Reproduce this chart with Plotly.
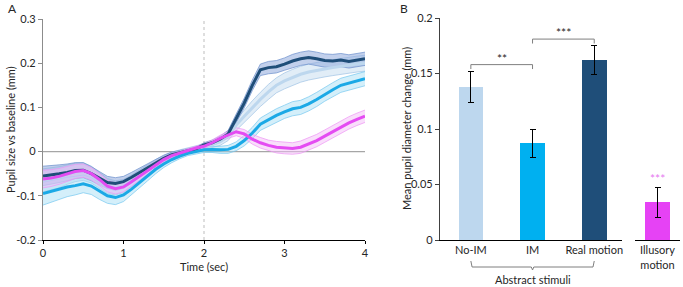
import plotly.graph_objects as go

# ---------------- data: panel A (time course) ----------------
time_s = [i / 10 for i in range(41)]

real_motion = [-0.055, -0.053, -0.05, -0.047, -0.043, -0.042, -0.05, -0.06, -0.07, -0.072,
               -0.068, -0.058, -0.047, -0.036, -0.025, -0.015, -0.007, -0.002, 0.002, 0.006,
               0.015, 0.02, 0.028, 0.04, 0.075, 0.11, 0.15, 0.185, 0.19, 0.192,
               0.198, 0.205, 0.21, 0.213, 0.21, 0.206, 0.205, 0.207, 0.204, 0.207, 0.21]
real_motion_err = [0.022, 0.021, 0.02, 0.019, 0.018, 0.017, 0.016, 0.015, 0.014, 0.013,
                   0.012, 0.011, 0.01, 0.009, 0.008, 0.007, 0.006, 0.005, 0.004, 0.004,
                   0.005, 0.006, 0.007, 0.008, 0.01, 0.011, 0.012, 0.013, 0.014, 0.014,
                   0.014, 0.015, 0.015, 0.015, 0.015, 0.015, 0.015, 0.015, 0.015, 0.015, 0.015]

no_im = [-0.065, -0.062, -0.058, -0.052, -0.047, -0.045, -0.052, -0.065, -0.078, -0.082,
         -0.078, -0.066, -0.053, -0.04, -0.028, -0.017, -0.008, -0.002, 0.003, 0.008,
         0.012, 0.016, 0.022, 0.035, 0.06, 0.08, 0.1, 0.118, 0.135, 0.15,
         0.16, 0.168, 0.175, 0.18, 0.184, 0.187, 0.19, 0.193, 0.196, 0.198, 0.2]
no_im_err = [0.026, 0.025, 0.024, 0.022, 0.021, 0.02, 0.019, 0.018, 0.017, 0.016,
             0.015, 0.013, 0.012, 0.011, 0.01, 0.008, 0.007, 0.006, 0.005, 0.005,
             0.006, 0.007, 0.008, 0.01, 0.012, 0.014, 0.015, 0.016, 0.017, 0.017,
             0.018, 0.018, 0.018, 0.018, 0.018, 0.018, 0.018, 0.018, 0.018, 0.018, 0.018]

im = [-0.095, -0.09, -0.085, -0.08, -0.077, -0.073, -0.078, -0.09, -0.1, -0.104,
      -0.098, -0.085, -0.07, -0.055, -0.04, -0.028, -0.018, -0.01, -0.004, 0.0,
      0.004, 0.005, 0.004, 0.005, 0.012, 0.025, 0.042, 0.062, 0.072, 0.082,
      0.09, 0.097, 0.1, 0.108, 0.118, 0.13, 0.14, 0.15, 0.155, 0.16, 0.165]
im_err = [0.026, 0.025, 0.024, 0.022, 0.021, 0.02, 0.019, 0.018, 0.017, 0.016,
          0.015, 0.013, 0.012, 0.011, 0.01, 0.008, 0.007, 0.006, 0.005, 0.005,
          0.006, 0.007, 0.008, 0.009, 0.01, 0.012, 0.013, 0.014, 0.015, 0.015,
          0.015, 0.016, 0.016, 0.016, 0.016, 0.016, 0.016, 0.016, 0.016, 0.016, 0.016]

illusory = [-0.062, -0.06, -0.056, -0.05, -0.045, -0.043, -0.05, -0.063, -0.078, -0.084,
            -0.08, -0.068, -0.055, -0.042, -0.03, -0.018, -0.009, -0.003, 0.003, 0.008,
            0.012, 0.02, 0.03, 0.038, 0.045, 0.04, 0.028, 0.02, 0.014, 0.01,
            0.008, 0.007, 0.01, 0.017, 0.025, 0.035, 0.045, 0.055, 0.065, 0.073, 0.08]
illusory_err = [0.02, 0.019, 0.018, 0.017, 0.016, 0.015, 0.014, 0.014, 0.013, 0.012,
                0.011, 0.01, 0.009, 0.008, 0.007, 0.006, 0.005, 0.004, 0.004, 0.004,
                0.005, 0.006, 0.007, 0.008, 0.009, 0.01, 0.011, 0.012, 0.012, 0.013,
                0.013, 0.013, 0.014, 0.014, 0.014, 0.014, 0.014, 0.014, 0.014, 0.014, 0.014]

# ---------------- data: panel B (bars) ----------------
bar_labels = ["No-IM", "IM", "Real motion"]
bar_values = [0.138, 0.087, 0.162]
bar_errors = [0.014, 0.013, 0.013]
illusory_label = ["Illusory<br>motion"]
illusory_value = [0.034]
illusory_error = [0.0135]

left_yticks = [-0.2, -0.1, 0, 0.1, 0.2, 0.3]
left_ytext = ["-0.2", "-0.1", "0", "0.1", "0.2", "0.3"]
right_yticks = [0, 0.05, 0.1, 0.15, 0.2]
right_ytext = ["0", "0.05", "0.1", "0.15", "0.2"]

FONT = "Lato"
TXT = "#262626"

series = [
    (no_im, no_im_err, "#BDD7EE", "rgba(189,215,238,0.45)", "rgba(160,195,228,0.9)"),
    (real_motion, real_motion_err, "#1F4E79", "rgba(143,170,220,0.55)", "rgba(110,145,205,0.9)"),
    (im, im_err, "#1BA9E6", "rgba(160,220,245,0.45)", "rgba(120,200,240,0.9)"),
    (illusory, illusory_err, "#E44CF2", "rgba(244,190,248,0.5)", "rgba(238,150,245,0.9)"),
]

fig = go.Figure()

# error bands
for vals, errs, lc, fc, ec in series:
    lo = [v - e for v, e in zip(vals, errs)]
    hi = [v + e for v, e in zip(vals, errs)]
    fig.add_trace(go.Scatter(x=time_s, y=lo, mode="lines", line=dict(color=ec, width=0.8),
                             showlegend=False, hoverinfo="skip", xaxis="x", yaxis="y"))
    fig.add_trace(go.Scatter(x=time_s, y=hi, mode="lines", line=dict(color=ec, width=0.8),
                             fill="tonexty", fillcolor=fc,
                             showlegend=False, hoverinfo="skip", xaxis="x", yaxis="y"))

# mean lines
for vals, errs, lc, fc, ec in series:
    fig.add_trace(go.Scatter(x=time_s, y=vals, mode="lines", line=dict(color=lc, width=3),
                             showlegend=False, xaxis="x", yaxis="y"))

# bars
fig.add_trace(go.Bar(x=bar_labels, y=bar_values, width=0.4,
                     marker=dict(color=["#BDD7EE", "#00B0F0", "#1F4E79"], line=dict(width=0)),
                     error_y=dict(type="data", array=bar_errors, color="#000000", thickness=1, width=3),
                     showlegend=False, xaxis="x2", yaxis="y2"))
fig.add_trace(go.Bar(x=illusory_label, y=illusory_value, width=0.55,
                     marker=dict(color="#E642F5", line=dict(width=0)),
                     error_y=dict(type="data", array=illusory_error, color="#000000", thickness=1, width=3),
                     showlegend=False, xaxis="x3", yaxis="y2"))

axis_font = dict(family=FONT, size=11, color=TXT)

fig.update_layout(
    template="none",
    width=683, height=287,
    margin=dict(l=0, r=0, t=0, b=0, autoexpand=False),
    paper_bgcolor="white", plot_bgcolor="rgba(0,0,0,0)",
    font=dict(family=FONT, size=11, color=TXT),
    xaxis=dict(domain=[43 / 683, 365 / 683], range=[0, 4], tickvals=[0, 1, 2, 3, 4],
               showgrid=False, zeroline=False, showline=True, linecolor="#000000", linewidth=1.3,
               ticks="outside", ticklen=3, tickcolor="#000000", tickfont=axis_font, anchor="y",
               automargin=False),
    yaxis=dict(domain=[47 / 287, 268 / 287], range=[-0.2, 0.3], tickvals=left_yticks,
               ticktext=left_ytext, showgrid=False, zeroline=False, showline=True,
               linecolor="#8c8c8c", linewidth=1.3, ticks="outside", ticklen=4,
               tickcolor="#8c8c8c", tickfont=axis_font, anchor="x", automargin=False),
    xaxis2=dict(domain=[440 / 683, 622 / 683], range=[-0.5, 2.45], type="category",
                showgrid=False, zeroline=False, showline=True, linecolor="#000000", linewidth=1.2,
                ticks="", tickfont=axis_font, anchor="y2", automargin=False),
    yaxis2=dict(domain=[47 / 287, 269 / 287], range=[0, 0.2], tickvals=right_yticks,
                ticktext=right_ytext, showgrid=False, zeroline=False, showline=True,
                linecolor="#404040", linewidth=1.2, ticks="outside", ticklen=4,
                tickcolor="#404040", tickfont=axis_font, anchor="x2", automargin=False),
    xaxis3=dict(domain=[635 / 683, 680 / 683], range=[-0.5, 0.5], type="category",
                showgrid=False, zeroline=False, showline=True, linecolor="#000000", linewidth=1.2,
                ticks="", tickfont=axis_font, anchor="y2", automargin=False),
    bargap=0,
)

# zero line and stimulus onset line in panel A
fig.add_shape(type="line", xref="x", yref="y", x0=0, x1=4, y0=0, y1=0,
              line=dict(color="#a6a6a6", width=1.2), layer="below")
fig.add_shape(type="line", xref="x", yref="y", x0=2, x1=2, y0=-0.2, y1=0.3,
              line=dict(color="#c8c8c8", width=1.2, dash="dot"), layer="below")

# significance brackets
def bracket(x0, x1, y, drop):
    fig.add_shape(type="path", xref="x2", yref="y2",
                  path=f"M {x0},{y - drop} L {x0},{y} L {x1},{y} L {x1},{y - drop}",
                  line=dict(color="#7f7f7f", width=1))

bracket(0, 1, 0.158, 0.004)
bracket(1, 2, 0.181, 0.004)
fig.add_annotation(x=0.5, y=0.158, xref="x2", yref="y2", text="**", showarrow=False,
                   xanchor="center", yanchor="bottom", yshift=-3,
                   font=dict(size=12, color=TXT, family=FONT))
fig.add_annotation(x=1.5, y=0.181, xref="x2", yref="y2", text="***", showarrow=False,
                   xanchor="center", yanchor="bottom", yshift=-3,
                   font=dict(size=12, color=TXT, family=FONT))
fig.add_annotation(x=0, y=0.05, xref="x3", yref="y2", text="***", showarrow=False,
                   xanchor="center", yanchor="bottom", yshift=-3,
                   font=dict(size=12, color="#E67AF0", family=FONT))

# "Abstract stimuli" brace below the three bars
fig.add_shape(type="path", xref="x2", yref="paper",
              path=f"M 0,{26 / 287} L 0.02,{20 / 287} L 0.98,{20 / 287} L 1,{17 / 287} "
                   f"L 1.02,{20 / 287} L 1.98,{20 / 287} L 2,{26 / 287}",
              line=dict(color="#7f7f7f", width=1))


def label(x_px, y_px, text, size=11, angle=0, color=TXT, xref="paper"):
    fig.add_annotation(x=x_px if xref != "paper" else x_px / 683, y=(287 - y_px) / 287,
                       xref=xref, yref="paper", text=text, textangle=angle, showarrow=False,
                       xanchor="center", yanchor="middle",
                       font=dict(size=size, color=color, family=FONT))


label(1, 279, "Abstract stimuli", xref="x2")
label(204, 266, "Time (sec)")
label(10, 130, "Pupil size vs baseline (mm)", angle=-90)
label(406, 129, "Mean pupil diameter change (mm)", angle=-90)
label(12, 9, "A", size=12)
label(404, 9, "B", size=12)

fig.write_html("out.html",
               config={"displayModeBar": False},
               post_script="document.body.style.margin='0px';document.body.style.overflow='hidden';")
